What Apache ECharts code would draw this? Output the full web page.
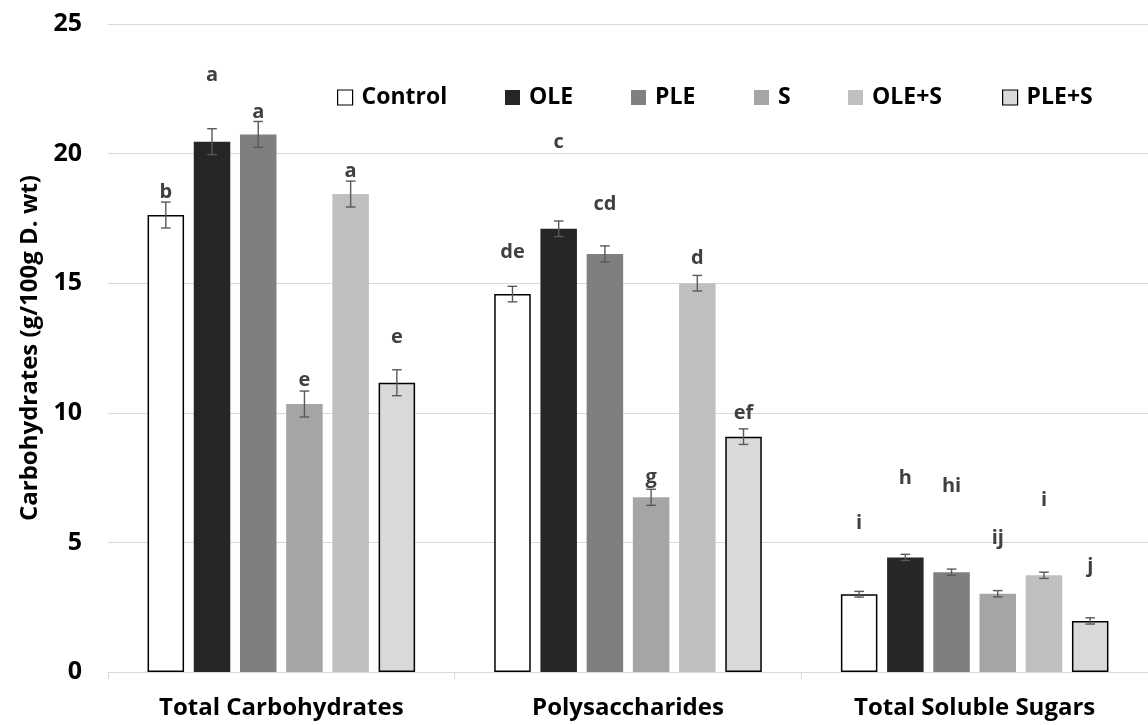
<!DOCTYPE html>
<html><head><meta charset="utf-8">
<script src="https://cdn.jsdelivr.net/npm/echarts@6/dist/echarts.min.js"></script>
<style>html,body{margin:0;padding:0;background:#fff}#c{width:1148px;height:725px}</style>
</head><body><div id="c"></div>
<script>
// ---- data ----
const categories = ['Total Carbohydrates', 'Polysaccharides', 'Total Soluble Sugars'];
const seriesNames = ['Control', 'OLE', 'PLE', 'S', 'OLE+S', 'PLE+S'];
const yTicks = [0, 5, 10, 15, 20, 25];

const valControl = [17.63, 14.58, 3.00];
const valOLE     = [20.46, 17.10, 4.42];
const valPLE     = [20.74, 16.13, 3.85];
const valS       = [10.34, 6.74, 3.02];
const valOLES    = [18.44, 15.00, 3.73];
const valPLES    = [11.16, 9.08, 1.97];

const errControl = [0.50, 0.30, 0.11];
const errOLE     = [0.50, 0.30, 0.12];
const errPLE     = [0.50, 0.31, 0.12];
const errS       = [0.50, 0.31, 0.12];
const errOLES    = [0.50, 0.30, 0.12];
const errPLES    = [0.50, 0.30, 0.12];

const letControl = ['b', 'de', 'i'];
const letOLE     = ['a', 'c', 'h'];
const letPLE     = ['a', 'cd', 'hi'];
const letS       = ['e', 'g', 'ij'];
const letOLES    = ['a', 'd', 'i'];
const letPLES    = ['e', 'ef', 'j'];

// heights (in data units) at which the significance letters sit
const letHControl = [18.52, 16.19, 5.74];
const letHOLE     = [23.03, 20.42, 7.47];
const letHPLE     = [21.60, 18.06, 7.15];
const letHS       = [11.27, 7.53, 5.16];
const letHOLES    = [19.33, 15.95, 6.64];
const letHPLES    = [12.92, 9.98, 4.06];

// ---- assembly ----
const values = [valControl, valOLE, valPLE, valS, valOLES, valPLES];
const errors = [errControl, errOLE, errPLE, errS, errOLES, errPLES];
const letters = [letControl, letOLE, letPLE, letS, letOLES, letPLES];
const letterH = [letHControl, letHOLE, letHPLE, letHS, letHOLES, letHPLES];

const colors = ['#ffffff', '#262626', '#7f7f7f', '#a5a5a5', '#bfbfbf', '#d9d9d9'];
const bordered = [true, false, false, false, false, true];
const BAR_W = 36.5, GAP = 0.266;
const PITCH = BAR_W * (1 + GAP);
const FONT = '"Open Sans", "Liberation Sans", sans-serif';
const legendLeft = [337, 505, 631, 754, 848, 1002];

const series = [];
seriesNames.forEach((n, i) => {
  series.push({
    name: n, type: 'bar', barWidth: BAR_W, barGap: (GAP * 100) + '%',
    data: values[i],
    itemStyle: {
      color: colors[i],
      borderColor: bordered[i] ? '#000' : colors[i],
      borderWidth: bordered[i] ? 1.5 : 0
    },
    emphasis: { disabled: true }, animation: false
  });
});
seriesNames.forEach((n, i) => {
  series.push({
    type: 'custom', z: 10, animation: false, silent: true,
    data: values[i].map((v, k) => [k, v, errors[i][k], letterH[i][k]]),
    encode: { x: 0, y: 1 },
    renderItem: function (params, api) {
      const cat = api.value(0), v = api.value(1), e = api.value(2), lh = api.value(3);
      const off = (i - 2.5) * PITCH;
      const t = api.coord([cat, v + e]);
      const b = api.coord([cat, v - e]);
      const x = t[0] + off;
      const l = api.coord([cat, lh]);
      const st = { stroke: '#595959', lineWidth: 1.4 };
      return {
        type: 'group', children: [
          { type: 'line', shape: { x1: x, y1: t[1], x2: x, y2: b[1] }, style: st },
          { type: 'line', shape: { x1: x - 4.8, y1: t[1], x2: x + 4.8, y2: t[1] }, style: st },
          { type: 'line', shape: { x1: x - 4.8, y1: b[1], x2: x + 4.8, y2: b[1] }, style: st },
          { type: 'text', x: x, y: l[1], style: {
              text: letters[i][params.dataIndex], fill: '#404040',
              font: 'bold 20px ' + FONT, align: 'center', verticalAlign: 'middle' } }
        ]
      };
    }
  });
});

const legends = seriesNames.map((n, i) => ({
  data: [n], left: legendLeft[i], top: 85, padding: 0,
  itemWidth: 15, itemHeight: 15, icon: 'rect',
  itemStyle: { borderColor: bordered[i] ? '#000' : colors[i], borderWidth: bordered[i] ? 1.2 : 0 },
  textStyle: { fontFamily: FONT, fontWeight: 'bold', fontSize: 23, color: '#000', lineHeight: 25, padding: [0, 0, 0, 4] },
  selectedMode: false
}));

const chart = echarts.init(document.getElementById('c'), null, { renderer: 'canvas' });
chart.setOption({
  animation: false,
  backgroundColor: '#fff',
  grid: { left: 108, top: 24, width: 1044, bottom: 53, containLabel: false },
  legend: legends,
  xAxis: {
    type: 'category', data: categories,
    axisLine: { lineStyle: { color: '#d9d9d9', width: 1 } },
    axisTick: { show: true, length: 7, lineStyle: { color: '#d9d9d9' } },
    axisLabel: { fontFamily: FONT, fontWeight: 'bold', fontSize: 24, color: '#000', margin: 24 }
  },
  yAxis: {
    type: 'value', min: yTicks[0], max: yTicks[yTicks.length - 1], interval: yTicks[1] - yTicks[0],
    axisLine: { show: false }, axisTick: { show: false },
    splitLine: { lineStyle: { color: '#d9d9d9', width: 1 } },
    axisLabel: { fontFamily: FONT, fontWeight: 'bold', fontSize: 25, color: '#000', margin: 26 },
    name: 'Carbohydrates (g/100g D. wt)', nameLocation: 'middle', nameRotate: 90, nameGap: 66,
    nameTextStyle: { fontFamily: FONT, fontWeight: 'bold', fontSize: 24, color: '#000' }
  },
  series: series
});
</script></body></html>
